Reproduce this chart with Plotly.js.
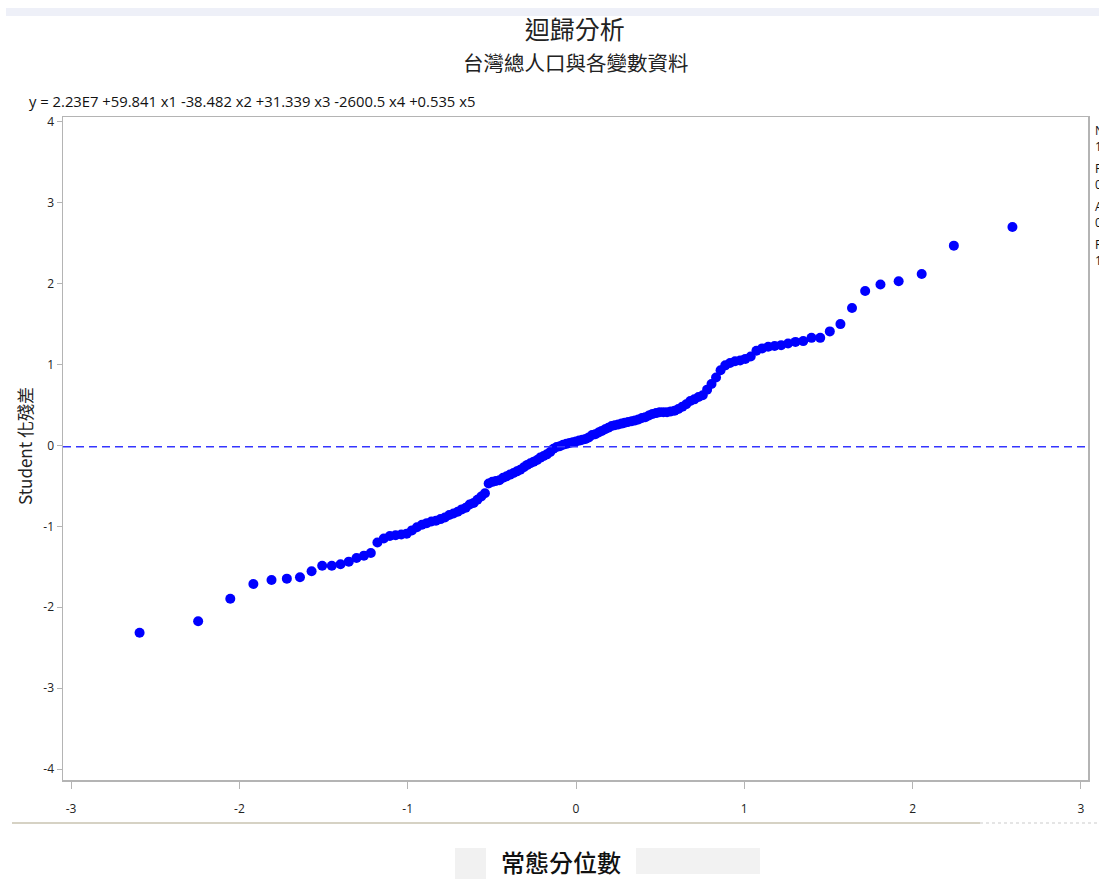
<!DOCTYPE html>
<html>
<head>
<meta charset="utf-8">
<script src="https://cdn.plot.ly/plotly-3.0.1.min.js"></script>
<style>
  html, body { margin: 0; padding: 0; background: #ffffff; }
  #chart { width: 1099px; height: 879px; }
</style>
</head>
<body>
<div id="chart"></div>
<script>
// Normal quantiles (x), ordered
const normalQuantiles = [
  -2.593, -2.245, -2.054, -1.917, -1.809, -1.718, -1.640, -1.571, -1.508, -1.451,
  -1.399, -1.350, -1.304, -1.260, -1.219, -1.180, -1.142, -1.106, -1.072, -1.038,
  -1.006, -0.975, -0.945, -0.915, -0.887, -0.859, -0.832, -0.805, -0.779, -0.753,
  -0.728, -0.703, -0.679, -0.655, -0.632, -0.608, -0.586, -0.563, -0.541, -0.519,
  -0.497, -0.476, -0.455, -0.433, -0.412, -0.392, -0.371, -0.351, -0.331, -0.310,
  -0.290, -0.271, -0.251, -0.231, -0.212, -0.192, -0.173, -0.153, -0.134, -0.115,
  -0.096, -0.076, -0.057, -0.038, -0.019, 0.000, 0.019, 0.038, 0.057, 0.076,
  0.096, 0.115, 0.134, 0.153, 0.173, 0.192, 0.212, 0.231, 0.251, 0.271,
  0.290, 0.310, 0.331, 0.351, 0.371, 0.392, 0.412, 0.433, 0.455, 0.476,
  0.497, 0.519, 0.541, 0.563, 0.586, 0.608, 0.632, 0.655, 0.679, 0.703,
  0.728, 0.753, 0.779, 0.805, 0.832, 0.859, 0.887, 0.915, 0.945, 0.975,
  1.006, 1.038, 1.072, 1.106, 1.142, 1.180, 1.219, 1.260, 1.304, 1.350,
  1.399, 1.451, 1.508, 1.571, 1.640, 1.718, 1.809, 1.917, 2.054, 2.245,
  2.593
];

// Studentized residuals (y), sorted
const studentResiduals = [
  -2.314, -2.173, -1.894, -1.712, -1.663, -1.646, -1.629, -1.555, -1.486, -1.486,
  -1.468, -1.436, -1.391, -1.362, -1.329, -1.20, -1.15, -1.12, -1.11, -1.10,
  -1.09, -1.05, -1.01, -0.98, -0.96, -0.94, -0.93, -0.91, -0.89, -0.86,
  -0.84, -0.82, -0.79, -0.77, -0.73, -0.71, -0.67, -0.63, -0.59, -0.47,
  -0.45, -0.44, -0.43, -0.40, -0.38, -0.36, -0.34, -0.32, -0.30, -0.27,
  -0.24, -0.22, -0.20, -0.18, -0.15, -0.13, -0.11, -0.08, -0.04, -0.02,
  -0.01, 0.01, 0.02, 0.03, 0.04, 0.05, 0.06, 0.07, 0.08, 0.10,
  0.13, 0.14, 0.16, 0.18, 0.20, 0.22, 0.24, 0.25, 0.26, 0.27,
  0.28, 0.29, 0.30, 0.31, 0.32, 0.34, 0.35, 0.37, 0.39, 0.40,
  0.41, 0.41, 0.41, 0.42, 0.43, 0.45, 0.48, 0.51, 0.55, 0.57,
  0.60, 0.62, 0.69, 0.76, 0.84, 0.93, 0.99, 1.02, 1.04, 1.05,
  1.07, 1.10, 1.17, 1.20, 1.22, 1.23, 1.24, 1.26, 1.28, 1.29,
  1.33, 1.33, 1.41, 1.50, 1.70, 1.91, 1.99, 2.03, 2.12, 2.47,
  2.70
];

const xTicks = [-3, -2, -1, 0, 1, 2, 3];
const yTicks = [-4, -3, -2, -1, 0, 1, 2, 3, 4];
const referenceLevel = [-0.015];

const mainTitle = '迴歸分析';
const subTitle = '台灣總人口與各變數資料';
const equationText = 'y = 2.23E7 +59.841 x1 -38.482 x2 +31.339 x3 -2600.5 x4 +0.535 x5';
const xTitle = '常態分位數';
const yTitle = 'Student 化殘差';
const insetLabels = ['N', 'R-Square', 'Adj R-Sq', 'RMSE'];
const insetValues = ['131', '0.9', '0.9', '1'];

// layout geometry (pixels)
const W = 1099, H = 879;
const M = {l: 63, r: 11, t: 117, b: 99};
const PW = W - M.l - M.r, PH = H - M.t - M.b;
const px = x => (x - M.l) / PW;
const py = y => (H - M.b - y) / PH;

const cjk = '"Noto Sans CJK TC", "Noto Sans CJK SC", sans-serif';
const sans = '"Open Sans", "Liberation Sans", sans-serif';

const annotations = [
  {text: subTitle, x: px(576), y: py(62), xref: 'paper', yref: 'paper', showarrow: false,
   xanchor: 'center', yanchor: 'middle', font: {family: cjk, size: 20.5, color: '#222'}},
  {text: equationText, x: px(27), y: py(101), xref: 'paper', yref: 'paper', showarrow: false,
   xanchor: 'left', yanchor: 'middle', font: {family: sans, size: 14.8, color: '#111'}},
  {text: yTitle, x: px(24), y: py(446), xref: 'paper', yref: 'paper', showarrow: false,
   textangle: -90, xanchor: 'center', yanchor: 'middle', font: {family: cjk, size: 17, color: '#222'}},
  {text: xTitle, x: px(561), y: py(861), xref: 'paper', yref: 'paper', showarrow: false,
   xanchor: 'center', yanchor: 'middle', font: {family: cjk, size: 24, color: '#111', weight: 500}}
];
insetLabels.forEach((lab, i) => {
  annotations.push({text: lab + '<br>' + insetValues[i], x: px(1093), y: py(120 + i * 38),
    xref: 'paper', yref: 'paper', showarrow: false, xanchor: 'left', yanchor: 'top', align: 'left',
    font: {family: sans, size: 12, color: '#111111'}});
});

const shapes = [
  // faint band along top
  {type: 'rect', xref: 'paper', yref: 'paper', x0: px(6), x1: px(1099), y0: py(16), y1: py(8),
   fillcolor: '#eef0f8', line: {width: 0}, layer: 'below'},
  // separator line under the axis
  {type: 'line', xref: 'paper', yref: 'paper', x0: px(12), x1: px(980), y0: py(823), y1: py(823),
   line: {color: '#d6d2c4', width: 2}},
  {type: 'line', xref: 'paper', yref: 'paper', x0: px(980), x1: px(1099), y0: py(823), y1: py(823),
   line: {color: '#dddddd', width: 1.5, dash: 'dot'}},
  // faint grey patches around the axis title
  {type: 'rect', xref: 'paper', yref: 'paper', x0: px(455), x1: px(486), y0: py(879), y1: py(848),
   fillcolor: '#f1f1f1', line: {width: 0}, layer: 'below'},
  {type: 'rect', xref: 'paper', yref: 'paper', x0: px(636), x1: px(760), y0: py(874), y1: py(848),
   fillcolor: '#f2f2f2', line: {width: 0}, layer: 'below'},
  // reference line
  {type: 'line', xref: 'paper', yref: 'y', x0: 0, x1: 1, y0: referenceLevel[0], y1: referenceLevel[0],
   line: {color: '#3535ff', width: 1.5, dash: '8px,5px'}}
];

const trace = {
  type: 'scatter', mode: 'markers',
  x: normalQuantiles, y: studentResiduals,
  marker: {color: '#0000ff', size: 10, symbol: 'circle', line: {width: 0}},
  hoverinfo: 'x+y', showlegend: false
};

const layout = {
  width: W, height: H,
  margin: M,
  paper_bgcolor: '#ffffff', plot_bgcolor: '#ffffff',
  title: {text: mainTitle, x: 0.523, xanchor: 'center', y: 1 - 30 / H, yanchor: 'middle',
          font: {family: cjk, size: 25, color: '#222'}},
  xaxis: {range: [-3.048, 3.042], tickvals: xTicks, ticktext: xTicks.map(String),
          showgrid: false, zeroline: false, showline: true, mirror: true,
          linecolor: '#b4b4b4', linewidth: 1.5, ticks: 'outside', ticklen: 7, tickcolor: '#b4b4b4',
          ticklabelstandoff: 10,
          tickfont: {family: sans, size: 12, color: '#222'}},
  yaxis: {range: [-4.135, 4.06], tickvals: yTicks, ticktext: yTicks.map(String),
          showgrid: false, zeroline: false, showline: true, mirror: true,
          linecolor: '#b4b4b4', linewidth: 1.5, ticks: 'outside', ticklen: 5, tickcolor: '#b4b4b4',
          tickfont: {family: sans, size: 12, color: '#222'}},
  annotations: annotations,
  shapes: shapes
};

Plotly.newPlot('chart', [trace], layout, {displayModeBar: false, staticPlot: true});
</script>
</body>
</html>
